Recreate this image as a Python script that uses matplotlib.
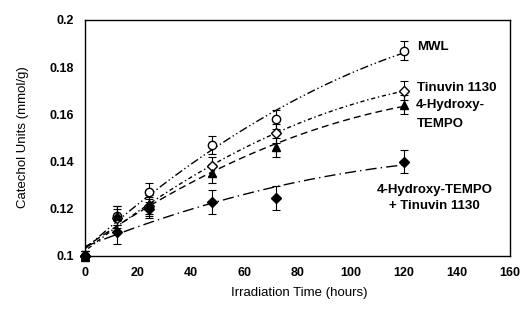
import matplotlib
matplotlib.use('Agg')
import matplotlib.pyplot as plt
import numpy as np

plt.rcParams['font.family'] = 'Liberation Sans'

# Irradiation time (hours)
hours = [0, 12, 24, 48, 72, 120]

mwl = [0.100, 0.117, 0.127, 0.147, 0.158, 0.187]
tinuvin = [0.100, 0.116, 0.121, 0.138, 0.152, 0.170]
tempo = [0.100, 0.117, 0.122, 0.135, 0.146, 0.164]
combo = [0.100, 0.110, 0.120, 0.123, 0.1245, 0.140]

mwl_err = [0.002, 0.004, 0.004, 0.004, 0.004, 0.004]
tinuvin_err = [0.002, 0.004, 0.004, 0.004, 0.004, 0.004]
tempo_err = [0.002, 0.004, 0.004, 0.004, 0.004, 0.004]
combo_err = [0.002, 0.005, 0.004, 0.005, 0.005, 0.005]

series = [
    (mwl, mwl_err, 'o', 'white', (0, (6, 2, 1, 2, 1, 2))),
    (tinuvin, tinuvin_err, 'D', 'white', (0, (1, 2, 3, 2))),
    (tempo, tempo_err, '^', 'black', (0, (5, 3))),
    (combo, combo_err, 'D', 'black', (0, (8, 3, 1, 3))),
]

fig = plt.figure(figsize=(5.24, 3.22), dpi=100)
ax = fig.add_axes([0.162, 0.205, 0.811, 0.733])

xs = np.linspace(0, 120, 200)
for vals, err, mk, fc, ls in series:
    ms = 5 if mk == 'D' else 6
    eb = ax.errorbar(hours, vals, yerr=err, fmt=mk, color='black', mfc=fc, mec='black',
                     ms=ms, capsize=3, elinewidth=0.8, capthick=0.8, zorder=3)
    for art in eb.get_children():
        art.set_clip_on(False)
    # trend line
    coef = np.polyfit(hours, vals, 2)
    ax.plot(xs, np.polyval(coef, xs), color='black', lw=1.0, linestyle=ls, zorder=2)

ax.set_xlim(0, 160)
ax.set_ylim(0.1, 0.2)
ax.set_xticks(range(0, 161, 20))
ax.set_yticks([0.1, 0.12, 0.14, 0.16, 0.18, 0.2])
ax.set_yticklabels(['0.1', '0.12', '0.14', '0.16', '0.18', '0.2'])
ax.tick_params(length=0, pad=8, labelsize=9)
for lab in ax.get_xticklabels() + ax.get_yticklabels():
    lab.set_fontweight('bold')

fig.text(0.5716, 0.090, 'Irradiation Time (hours)', fontsize=9.5, ha='center', va='center')
fig.text(0.044, 0.5745, 'Catechol Units (mmol/g)', fontsize=9.5, ha='center', va='center',
         rotation=90)

tk = dict(fontsize=9.5, fontweight='bold', va='center')
ax.text(125, 0.1886, 'MWL', **tk)
ax.text(125, 0.1712, 'Tinuvin 1130', **tk)
ax.text(124.5, 0.164, '4-Hydroxy-', **tk)
ax.text(133.7, 0.156, 'TEMPO', ha='center', **tk)
ax.text(131.6, 0.128, '4-Hydroxy-TEMPO', ha='center', **tk)
ax.text(131.6, 0.1212, '+ Tinuvin 1130', ha='center', **tk)

for sp in ax.spines.values():
    sp.set_linewidth(1.0)

fig.savefig('out.png', dpi=100)
